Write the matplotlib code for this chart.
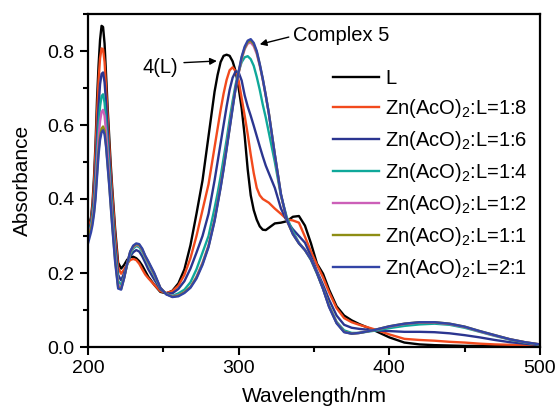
import matplotlib
matplotlib.use("Agg")
import matplotlib.pyplot as plt
from matplotlib.ticker import MultipleLocator, FormatStrFormatter

plt.rcParams['font.family'] = ['Liberation Sans', 'DejaVu Sans']
plt.rcParams['mathtext.default'] = 'regular'

wavelength = (list(range(200, 217, 1)) + list(range(218, 241, 2)) + list(range(244, 281, 4)) +
              list(range(284, 321, 2)) + list(range(324, 361, 4)) + [365, 370, 375, 380] +
              list(range(390, 501, 10)))

abs_L = [0.325, 0.335, 0.35, 0.39, 0.46, 0.55, 0.67, 0.76, 0.83, 0.868, 0.865, 0.82, 0.735, 0.65, 0.575, 0.50, 0.435,
         0.32, 0.228, 0.212, 0.222, 0.236, 0.243, 0.244, 0.24, 0.232, 0.22, 0.205, 0.19,
         0.168, 0.149, 0.145, 0.152, 0.172, 0.21, 0.275, 0.36, 0.45, 0.57,
         0.69, 0.735, 0.77, 0.787, 0.79, 0.787, 0.772, 0.745, 0.70, 0.645, 0.57, 0.48, 0.41, 0.37, 0.344, 0.326, 0.317, 0.316, 0.322,
         0.334, 0.336, 0.34, 0.352, 0.354, 0.328, 0.28, 0.225, 0.198, 0.155,
         0.11, 0.085, 0.072, 0.062,
         0.045, 0.026, 0.012, 0.007, 0.005, 0.004, 0.003, 0.003, 0.003, 0.002, 0.002, 0.002]

abs_18 = [0.32, 0.33, 0.345, 0.38, 0.44, 0.53, 0.63, 0.72, 0.78, 0.807, 0.805, 0.77, 0.70, 0.625, 0.55, 0.48, 0.42,
          0.305, 0.215, 0.198, 0.21, 0.225, 0.235, 0.238, 0.235, 0.225, 0.21, 0.196, 0.186,
          0.168, 0.151, 0.146, 0.151, 0.166, 0.195, 0.24, 0.30, 0.37, 0.44,
          0.54, 0.59, 0.64, 0.685, 0.722, 0.748, 0.756, 0.745, 0.72, 0.672, 0.625, 0.575, 0.52, 0.47, 0.43, 0.41, 0.40, 0.395, 0.39,
          0.374, 0.36, 0.345, 0.342, 0.336, 0.298, 0.258, 0.222, 0.188, 0.148,
          0.105, 0.078, 0.067, 0.06,
          0.048, 0.034, 0.022, 0.019, 0.017, 0.014, 0.012, 0.009, 0.007, 0.006, 0.005, 0.004]

abs_16 = [0.31, 0.32, 0.335, 0.365, 0.41, 0.48, 0.57, 0.65, 0.71, 0.738, 0.742, 0.715, 0.66, 0.59, 0.52, 0.455, 0.39,
          0.28, 0.195, 0.18, 0.2, 0.225, 0.245, 0.256, 0.262, 0.258, 0.245, 0.228, 0.21,
          0.182, 0.156, 0.145, 0.145, 0.157, 0.178, 0.212, 0.255, 0.30, 0.36,
          0.45, 0.50, 0.55, 0.60, 0.65, 0.695, 0.728, 0.745, 0.742, 0.72, 0.68, 0.65, 0.625, 0.598, 0.57, 0.542, 0.515, 0.49, 0.47,
          0.43, 0.375, 0.34, 0.318, 0.30, 0.282, 0.245, 0.205, 0.168, 0.128,
          0.085, 0.06, 0.052, 0.049,
          0.045, 0.043, 0.041, 0.041, 0.04, 0.037, 0.032, 0.026, 0.019, 0.013, 0.009, 0.005]

abs_14 = [0.305, 0.315, 0.33, 0.355, 0.39, 0.45, 0.53, 0.60, 0.65, 0.678, 0.683, 0.66, 0.61, 0.55, 0.49, 0.43, 0.37,
          0.26, 0.178, 0.168, 0.19, 0.222, 0.25, 0.266, 0.273, 0.27, 0.258, 0.24, 0.225,
          0.193, 0.158, 0.143, 0.138, 0.145, 0.155, 0.175, 0.21, 0.255, 0.30,
          0.375, 0.415, 0.46, 0.51, 0.56, 0.615, 0.665, 0.71, 0.745, 0.77, 0.783, 0.786, 0.778, 0.76, 0.73, 0.695, 0.655, 0.62, 0.58,
          0.50, 0.41, 0.35, 0.312, 0.282, 0.262, 0.235, 0.198, 0.158, 0.112,
          0.068, 0.045, 0.038, 0.038,
          0.044, 0.051, 0.057, 0.061, 0.063, 0.06, 0.052, 0.041, 0.03, 0.02, 0.012, 0.006]

abs_12 = [0.30, 0.31, 0.325, 0.345, 0.375, 0.43, 0.50, 0.565, 0.61, 0.635, 0.641, 0.625, 0.58, 0.525, 0.465, 0.41, 0.35,
          0.245, 0.168, 0.16, 0.188, 0.225, 0.255, 0.27, 0.276, 0.274, 0.262, 0.243, 0.228,
          0.196, 0.16, 0.143, 0.137, 0.14, 0.148, 0.162, 0.19, 0.228, 0.275,
          0.345, 0.39, 0.435, 0.485, 0.54, 0.595, 0.65, 0.70, 0.74, 0.778, 0.805, 0.82, 0.823, 0.813, 0.792, 0.76, 0.722, 0.678, 0.632,
          0.52, 0.412, 0.342, 0.306, 0.281, 0.262, 0.237, 0.20, 0.158, 0.11,
          0.066, 0.041, 0.036, 0.038,
          0.046, 0.055, 0.062, 0.066, 0.066, 0.062, 0.054, 0.042, 0.031, 0.021, 0.013, 0.007]

abs_11 = [0.295, 0.305, 0.32, 0.34, 0.365, 0.41, 0.47, 0.53, 0.57, 0.59, 0.596, 0.585, 0.545, 0.495, 0.445, 0.39, 0.335,
          0.235, 0.162, 0.157, 0.187, 0.226, 0.257, 0.272, 0.278, 0.276, 0.264, 0.245, 0.23,
          0.198, 0.16, 0.143, 0.136, 0.139, 0.148, 0.162, 0.188, 0.225, 0.272,
          0.342, 0.387, 0.432, 0.483, 0.537, 0.592, 0.648, 0.70, 0.742, 0.782, 0.808, 0.824, 0.828, 0.818, 0.797, 0.763, 0.724, 0.68, 0.633,
          0.52, 0.413, 0.342, 0.305, 0.28, 0.262, 0.237, 0.20, 0.158, 0.11,
          0.065, 0.041, 0.036, 0.038,
          0.046, 0.056, 0.063, 0.067, 0.067, 0.063, 0.055, 0.043, 0.032, 0.021, 0.013, 0.007]

abs_21 = [0.28, 0.295, 0.31, 0.33, 0.36, 0.40, 0.46, 0.52, 0.56, 0.58, 0.586, 0.575, 0.54, 0.49, 0.44, 0.385, 0.33,
          0.23, 0.158, 0.155, 0.186, 0.226, 0.258, 0.274, 0.28, 0.278, 0.266, 0.247, 0.232,
          0.2, 0.16, 0.142, 0.135, 0.137, 0.146, 0.16, 0.185, 0.222, 0.27,
          0.34, 0.385, 0.43, 0.48, 0.535, 0.59, 0.645, 0.70, 0.745, 0.785, 0.812, 0.828, 0.832, 0.822, 0.80, 0.765, 0.725, 0.68, 0.632,
          0.52, 0.415, 0.343, 0.305, 0.28, 0.262, 0.237, 0.20, 0.157, 0.108,
          0.064, 0.04, 0.036, 0.038,
          0.046, 0.056, 0.063, 0.067, 0.067, 0.063, 0.055, 0.043, 0.032, 0.021, 0.013, 0.007]

labels = ['L', 'Zn(AcO)$_2$:L=1:8', 'Zn(AcO)$_2$:L=1:6', 'Zn(AcO)$_2$:L=1:4',
          'Zn(AcO)$_2$:L=1:2', 'Zn(AcO)$_2$:L=1:1', 'Zn(AcO)$_2$:L=2:1']
series = [abs_L, abs_18, abs_16, abs_14, abs_12, abs_11, abs_21]
colors = ['#000000', '#F24A1D', '#2B3590', '#0FA89A', '#CC5FB8', '#8E8E14', '#3344A6']

fig = plt.figure(figsize=(5.6, 4.07), dpi=100)
ax = fig.add_axes([88/560, 60/407, 452/560, 333/407])

for y, c, lab in zip(series, colors, labels):
    ax.plot(wavelength, y, color=c, lw=1.7, label=lab, solid_joinstyle='round')

ax.set_xlim(200, 500)
ax.set_ylim(0, 0.9)
ax.xaxis.set_major_locator(MultipleLocator(100))
ax.xaxis.set_minor_locator(MultipleLocator(50))
ax.yaxis.set_major_locator(MultipleLocator(0.2))
ax.yaxis.set_minor_locator(MultipleLocator(0.1))
ax.yaxis.set_major_formatter(FormatStrFormatter('%.1f'))
ax.tick_params(which='major', direction='out', length=6, width=1.5, labelsize=14, top=False, right=False)
ax.tick_params(which='minor', direction='out', length=3.5, width=1.5, top=False, right=False)
for s in ax.spines.values():
    s.set_linewidth(1.6)

ax.set_xlabel('Wavelength/nm', fontsize=15, labelpad=7)
ax.set_ylabel('Absorbance', fontsize=15, labelpad=11)

ax.legend(loc='upper left', bbox_to_anchor=(0.542, 0.836), frameon=False, fontsize=14.5,
          handlelength=2.3, handletextpad=0.3, labelspacing=0.45, borderaxespad=0, borderpad=0)

ax.annotate('4(L)', xy=(285.5, 0.773), xytext=(260, 0.755), ha='right', va='center', fontsize=14.5,
            arrowprops=dict(arrowstyle='-|>', color='black', lw=1, mutation_scale=10,
                            shrinkA=2, shrinkB=0, relpos=(1.0, 0.75)))
ax.annotate('Complex 5', xy=(314, 0.818), xytext=(336, 0.843), ha='left', va='center', fontsize=14.5,
            arrowprops=dict(arrowstyle='-|>', color='black', lw=1, mutation_scale=10,
                            shrinkA=1, shrinkB=0, relpos=(0.0, 0.45)))

fig.savefig('out.png', dpi=100)
